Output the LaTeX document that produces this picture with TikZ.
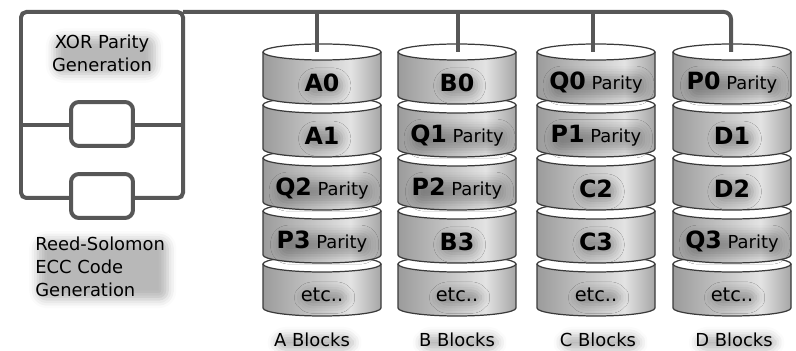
\documentclass[tikz,border=0pt]{standalone}
\usepackage{fontspec}
\setmainfont{DejaVu Sans}
\usepackage{tikz}
\usetikzlibrary{shadows.blur}

\definecolor{gris}{HTML}{575757}
\definecolor{borde}{HTML}{3A3A3A}
\pgfdeclarehorizontalshading{discosombra}{100bp}{color(0bp)=(gray!78); color(25bp)=(gray!78); color(62bp)=(gray!22); color(75bp)=(gray!70); color(100bp)=(gray!70)}

% texto en negrita de cada bloque
\newcommand{\bq}[1]{{\fontsize{13.5}{15}\selectfont\bfseries #1}}
\newcommand{\resto}{{\fontsize{11}{13}\selectfont etc..}}

% disco: x, y de la tapa, nombre, etiqueta
\newcommand{\disco}[4]{%
  \path[shading=discosombra] (#1-59,#2) -- (#1-59,#2+44)
     arc[start angle=180, end angle=0, x radius=59, y radius=8] -- (#1+59,#2) -- cycle;
  \draw[bordedisco] (#1-59,#2) -- (#1-59,#2+44)
     arc[start angle=180, end angle=0, x radius=59, y radius=8] -- (#1+59,#2);
  \draw[bordedisco, fill=white] (#1,#2) ellipse[x radius=59, y radius=8];
  \coordinate (#3t) at (#1,#2);
  \node[etiqueta] (#3) at (#1,#2+31) {#4};
}

\begin{document}
\begin{tikzpicture}[x=0.02cm, y=-0.02cm,
    linea/.style={draw=gris, line width=0.08cm},
    bordedisco/.style={draw=borde, line width=0.7pt},
    caja/.style={draw=gris, line width=0.08cm, fill=white, rounded corners=0.16cm,
                 minimum width=1.24cm, minimum height=0.88cm, inner sep=0pt},
    sombra/.style={rounded corners=5pt, blur shadow={shadow xshift=1.5pt, shadow yshift=-1.5pt,
                   shadow blur radius=5pt, shadow opacity=28}},
    texto/.style={sombra, font=\fontsize{10.2}{13}\selectfont, text=black, inner sep=0pt},
    etiqueta/.style={sombra, font=\fontsize{10.2}{12}\selectfont, text=black, inner sep=0pt}
  ]
  \useasboundingbox (0,0) rectangle (796,351);

  %Marco de generacion
  \coordinate (m-no) at (21,12);
  \coordinate (m-ne) at (183,12);
  \coordinate (m-se) at (183,198);
  \coordinate (m-o) at (21,125);
  \coordinate (m-e) at (183,125);
  \draw[linea, rounded corners=3] (m-no) rectangle (m-se);
  \draw[linea] (m-o) -- (m-e);
  \node[caja] (xor) at (102,124) {};
  \node[caja] (rs) at (102,196) {};
  \node[texto, align=center] (txor) at (102,53) {XOR Parity\\Generation};
  \node[texto, align=left, anchor=west] (trs) at (35,267) {Reed-Solomon\\ECC Code\\Generation};

  %Discos A
  \disco{322}{264}{a4}{\resto}
  \disco{322}{211}{a3}{\bq{P3} Parity}
  \disco{322}{158}{a2}{\bq{Q2} Parity}
  \disco{322}{105}{a1}{\bq{A1}}
  \disco{322}{52}{a0}{\bq{A0}}
  %Discos B
  \disco{457}{264}{b4}{\resto}
  \disco{457}{211}{b3}{\bq{B3}}
  \disco{457}{158}{b2}{\bq{P2} Parity}
  \disco{457}{105}{b1}{\bq{Q1} Parity}
  \disco{457}{52}{b0}{\bq{B0}}
  %Discos C
  \disco{596}{264}{c4}{\resto}
  \disco{596}{211}{c3}{\bq{C3}}
  \disco{596}{158}{c2}{\bq{C2}}
  \disco{596}{105}{c1}{\bq{P1} Parity}
  \disco{596}{52}{c0}{\bq{Q0} Parity}
  %Discos D
  \disco{732}{264}{d4}{\resto}
  \disco{732}{211}{d3}{\bq{Q3} Parity}
  \disco{732}{158}{d2}{\bq{D2}}
  \disco{732}{105}{d1}{\bq{D1}}
  \disco{732}{52}{d0}{\bq{P0} Parity}

  %Bus hacia los discos
  \coordinate (bA) at (317,12);
  \coordinate (bB) at (458,12);
  \coordinate (bC) at (593,12);
  \coordinate (bD) at (731,12);
  \draw[linea, rounded corners=4] (m-ne) -- (bD) -- (bD |- d0t);
  \draw[linea] (bA) -- (bA |- a0t);
  \draw[linea] (bB) -- (bB |- b0t);
  \draw[linea] (bC) -- (bC |- c0t);

  %Nombres de columnas
  \node[etiqueta] (na) at (312,340) {A Blocks};
  \node[etiqueta] (nb) at (457,340) {B Blocks};
  \node[etiqueta] (nc) at (598,340) {C Blocks};
  \node[etiqueta] (nd) at (734,340) {D Blocks};
\end{tikzpicture}
\end{document}
